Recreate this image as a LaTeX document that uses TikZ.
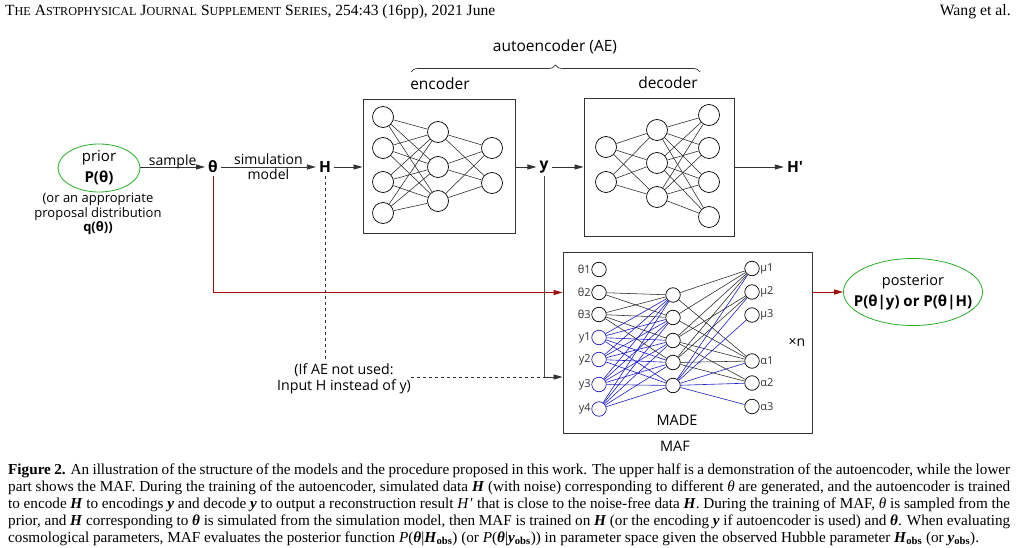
\documentclass[tikz,border=0pt]{standalone}
\usepackage{fontspec}
\setmainfont{Liberation Serif}
\newfontfamily\dfont{Open Sans}
\usepackage{graphicx}
\usetikzlibrary{shapes.geometric,arrows.meta,decorations.pathreplacing,calc}
\definecolor{darkred}{RGB}{165,10,10}
\definecolor{pgreen}{RGB}{40,175,40}
\definecolor{mblue}{RGB}{30,30,200}
\newcommand{\fsc}[2]{#1{\fontsize{8.6}{10}\selectfont #2}}
\newcommand{\cH}{\textbf{\textit{H}}}
\newcommand{\cy}{\textbf{\textit{y}}}
\newcommand{\ct}{\textbf{\textit{θ}}}
\newcommand{\capfont}{\fontsize{15.2}{17}\selectfont}
\begin{document}
\begin{tikzpicture}[x=1pt,y=-1pt,
 lbl/.style={font=\dfont\fontsize{14}{16}\selectfont, inner sep=0pt},
 tlbl/.style={font=\dfont\fontsize{15.5}{17}\selectfont, inner sep=0pt},
 lblb/.style={font=\dfont\bfseries\fontsize{15}{17}\selectfont, inner sep=0pt},
 bigl/.style={font=\dfont\bfseries\fontsize{15.5}{17}\selectfont, inner sep=3pt},
 neur/.style={circle, draw, line width=0.7pt, minimum size=21pt, inner sep=0pt},
 mn/.style={circle, draw, line width=0.7pt, minimum size=14.5pt, inner sep=0pt},
 conn/.style={line width=0.55pt, draw=black!85},
 bconn/.style={line width=0.6pt, draw=mblue},
 arr/.style={line width=0.8pt, draw=black!80, -{Triangle[length=9pt,width=5pt]}},
 rarr/.style={line width=0.9pt, draw=darkred, -{Triangle[length=9pt,width=5pt]}},
 box/.style={draw=black!80, line width=0.9pt, inner sep=0pt},
 mlbl/.style={font=\dfont\fontsize{11}{12}\selectfont, inner sep=0.5pt, text=black!80},
 capline/.style={anchor=base west, inner sep=0pt, font=\capfont}]
\fill[white] (0,0) rectangle (1016,548);
\useasboundingbox (0,0) rectangle (1016,548);

% header
\node[anchor=west, inner sep=0pt] (hdr) at (5,12) {\resizebox{490pt}{!}{\fontsize{11}{13}\selectfont \fsc{T}{HE} \fsc{A}{STROPHYSICAL} \fsc{J}{OURNAL} \fsc{S}{UPPLEMENT} \fsc{S}{ERIES}, 254:43 (16pp), 2021 June}};
\node[anchor=east, inner sep=0pt] (auth) at (1011,12) {\resizebox{71pt}{!}{\fontsize{11}{13}\selectfont Wang et al.}};

% autoencoder heading
\node[tlbl] (ae) at (555,47) {autoencoder (AE)};
\coordinate (brl) at (411,72);
\coordinate (brr) at (700,72);
\draw[decorate, decoration={brace, amplitude=7pt}, line width=0.7pt, black!80] (brl) -- (brr);
\node[tlbl] (enc) at (440,84) {encoder};
\node[tlbl] (dec) at (668,83) {decoder};

% boxes
\node[box, minimum width=152pt, minimum height=134pt] (encbox) at (439,166) {};
\node[box, minimum width=150pt, minimum height=138pt] (decbox) at (659,167) {};
\node[box, minimum width=249pt, minimum height=181pt] (mafbox) at (687.5,342.5) {};

% encoder network
\foreach \i/\yy in {1/117,2/148,3/182,4/213} \node[neur] (ei\i) at (383,\yy) {};
\foreach \i/\yy in {1/132,2/167,3/201} \node[neur] (eh\i) at (438,\yy) {};
\foreach \i/\yy in {1/148,2/183} \node[neur] (eo\i) at (492,\yy) {};
\foreach \a in {1,...,4} \foreach \b in {1,2,3} \draw[conn] (ei\a) -- (eh\b);
\foreach \a in {1,2,3} \foreach \b in {1,2} \draw[conn] (eh\a) -- (eo\b);

% decoder network
\foreach \i/\yy in {1/147,2/182} \node[neur] (di\i) at (606,\yy) {};
\foreach \i/\yy in {1/130,2/163,3/197} \node[neur] (dh\i) at (657,\yy) {};
\foreach \i/\yy in {1/115,2/148,3/182,4/217} \node[neur] (do\i) at (709,\yy) {};
\foreach \a in {1,2} \foreach \b in {1,2,3} \draw[conn] (di\a) -- (dh\b);
\foreach \a in {1,2,3} \foreach \b in {1,...,4} \draw[conn] (dh\a) -- (do\b);

% MADE network
\foreach \i/\yy/\t in {1/269.5/θ1,2/292.5/θ2,3/314.5/θ3}
  \node[mn, label={[mlbl]left:\t}] (mi\i) at (599,\yy) {};
\foreach \i/\yy/\t in {4/337.5/y1,5/359.5/y2,6/384.5/y3,7/409/y4}
  \node[mn, draw=mblue, label={[mlbl]left:\t}] (mi\i) at (599,\yy) {};
\foreach \i/\yy in {1/295,2/317.5,3/340.5,4/362.5,5/385.5} \node[mn] (mh\i) at (673,\yy) {};
\foreach \i/\yy/\t in {1/268.5/μ1,2/292/μ2,3/315/μ3,4/361/α1,5/383/α2,6/406.5/α3}
  \node[mn, label={[mlbl]right:\t}] (mo\i) at (752,\yy) {};
\draw[conn] (mi2) -- (mh1);
\draw[conn] (mi2) -- (mh2);
\foreach \b in {1,...,4} \draw[conn] (mi3) -- (mh\b);
\foreach \a in {4,...,7} \foreach \b in {1,...,5} \draw[bconn] (mi\a) -- (mh\b);
\foreach \a in {1,2} \foreach \b in {1,4} \draw[conn] (mh\a) -- (mo\b);
\foreach \a in {3,4} \foreach \b in {1,2,4,5} \draw[conn] (mh\a) -- (mo\b);
\foreach \b in {1,...,6} \draw[bconn] (mh5) -- (mo\b);
\node[lbl, font=\dfont\fontsize{14.5}{16}\selectfont] (made) at (677,420) {MADE};
\node[lbl, font=\dfont\fontsize{14.5}{16}\selectfont] (maf) at (675,446) {MAF};
\node[lbl] (xn) at (797,342) {×n};

% prior
\node[ellipse, draw=pgreen, line width=0.8pt, minimum width=82pt, minimum height=48pt, inner sep=0pt] (prior) at (99,168) {};
\node[lbl, font=\dfont\fontsize{15}{17}\selectfont] (priort) at (99,158) {prior};
\node[lblb] (priorp) at (99,178) {P(θ)};
\node[lbl, align=center, font=\dfont\fontsize{13}{14.5}\selectfont] (prop) at (98,214) {(or an appropriate\\proposal distribution\\\textbf{q(θ))}};

% main labels
\node[bigl] (theta) at (213,167) {θ};
\node[bigl] (H) at (325,167) {H};
\node[bigl] (y) at (544,167) {y};
\node[bigl] (Hp) at (795,167) {H'};

% arrows
\draw[arr] (prior.east |- theta.west) -- (theta.west) node[lbl, midway, above=-2.5pt] (samp) {sample};
\draw[arr] (theta.east) -- (H.west) node[lbl, midway, above=1.5pt] (simt) {simulation} node[lbl, midway, below=1pt] (modt) {model};
\draw[arr] (H.east) -- (H.east -| encbox.west);
\draw[arr] (encbox.east |- y.west) -- (y.west);
\draw[arr] (y.east) -- (y.east -| decbox.west);
\draw[arr] (decbox.east |- Hp.west) -- (Hp.west);
\draw[rarr] (theta.south) -- (theta.south |- mi2) -- (mi2 -| mafbox.west);

% AE not used
\node[lbl, align=center, font=\dfont\fontsize{14.2}{15.5}\selectfont] (ifae) at (344,379) {(If AE not used:\\Input H instead of y)};
\draw[dashed, line width=0.7pt, black!80, shorten >=5pt] (H.south) -- (H.south |- ifae.north);
\coordinate (jy) at (0,377);
\coordinate (j) at (y.south |- jy);
\draw[line width=0.8pt, black!70] (y.south) -- (j);
\draw[arr] (j) -- (j -| mafbox.west);
\draw[dashed, line width=0.7pt, black!80] (ifae.east |- j) -- (j);

% posterior
\node[ellipse, draw=pgreen, line width=0.8pt, minimum width=139pt, minimum height=67pt, inner sep=0pt] (post) at (913,292) {};
\node[lbl, font=\dfont\fontsize{14.5}{16}\selectfont] (postt) at (913,282) {posterior};
\node[lblb] (postp) at (913,303) {P(θ|y) or P(θ|H)};
\draw[rarr] (mafbox.east |- post.west) -- (post.west);

% caption
\node[capline] (c1) at (8,474) {\makebox[1002pt][s]{\textbf{Figure 2.} An illustration of the structure of the models and the procedure proposed in this work. The upper half is a demonstration of the autoencoder, while the lower}};
\node[capline] (c2) at (8,491) {\makebox[1002pt][s]{part shows the MAF. During the training of the autoencoder, simulated data \cH{} (with noise) corresponding to different \textit{θ} are generated, and the autoencoder is trained}};
\node[capline] (c3) at (8,508) {\makebox[1002pt][s]{to encode \cH{} to encodings \cy{} and decode \cy{} to output a reconstruction result \textit{H}\kern1pt′ that is close to the noise-free data \cH. During the training of MAF, \textit{θ} is sampled from the}};
\node[capline] (c4) at (8,525) {\makebox[1002pt][s]{prior, and \cH{} corresponding to \ct{} is simulated from the simulation model, then MAF is trained on \cH{} (or the encoding \cy{} if autoencoder is used) and \ct. When evaluating}};
\node[capline] (c5) at (8,542) {cosmological parameters, MAF evaluates the posterior function \textit{P}(\ct|\cH\textsubscript{\textbf{obs}}) (or \textit{P}(\ct|\cy\textsubscript{\textbf{obs}})) in parameter space given the observed Hubble parameter \cH\textsubscript{\textbf{obs}} (or \cy\textsubscript{\textbf{obs}}).};
\end{tikzpicture}
\end{document}
